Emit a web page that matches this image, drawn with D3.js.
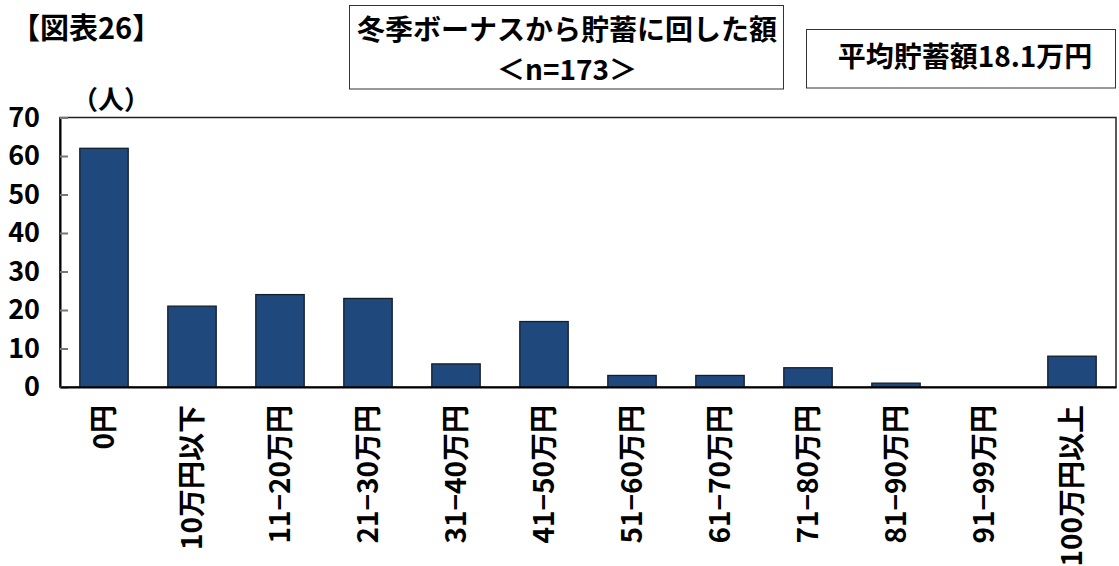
<!DOCTYPE html>
<html>
<head>
<meta charset="utf-8">
<script src="https://cdn.jsdelivr.net/npm/d3@7"></script>
<style>
  html, body { margin: 0; padding: 0; background: #fff; }
  svg { display: block; }
  text { font-family: "Noto Sans CJK JP", "Noto Sans", sans-serif; font-weight: bold; fill: #000; }
</style>
</head>
<body>
<svg id="chart" width="1119" height="566"></svg>
<script>
// 冬季ボーナスから貯蓄に回した額（人数）
const categories = ["0円", "10万円以下", "11−20万円", "21−30万円", "31−40万円", "41−50万円",
                    "51−60万円", "61−70万円", "71−80万円", "81−90万円", "91−99万円", "100万円以上"];
const counts = [62, 21, 24, 23, 6, 17, 3, 3, 5, 1, 0, 8];
const yTicks = [0, 10, 20, 30, 40, 50, 60, 70];

const figureLabel = "【図表26】";
const unitLabel = "（人）";
const titleLines = ["冬季ボーナスから貯蓄に回した額", "＜n=173＞"];
const averageLabel = "平均貯蓄額18.1万円";

const svg = d3.select("#chart");
const plot = { left: 60, right: 1116, top: 117.5, bottom: 387 };

const x = d3.scaleBand()
  .domain(categories)
  .range([plot.left, plot.right])
  .paddingInner(0.45)
  .paddingOuter(0.225);

const y = d3.scaleLinear()
  .domain([0, 70])
  .range([plot.bottom, plot.top]);

// plot frame
svg.append("rect")
  .attr("x", plot.left).attr("y", plot.top)
  .attr("width", plot.right - plot.left).attr("height", plot.bottom - plot.top)
  .attr("fill", "none").attr("stroke", "#222").attr("stroke-width", 1.5);

// bars
svg.append("g").selectAll("rect")
  .data(categories.map((c, i) => ({ c, v: counts[i] })))
  .join("rect")
  .attr("x", d => x(d.c))
  .attr("y", d => y(d.v))
  .attr("width", x.bandwidth())
  .attr("height", d => y(0) - y(d.v))
  .attr("fill", "#1f497d")
  .attr("stroke", "#141e2b")
  .attr("stroke-width", 1.3);

// y axis with inward ticks
const yAxis = svg.append("g")
  .attr("transform", `translate(${plot.left},0)`)
  .call(d3.axisLeft(y).tickValues(yTicks).tickSizeInner(-8).tickSizeOuter(0).tickPadding(20));
yAxis.select(".domain").attr("stroke", "#000").attr("stroke-width", 2);
yAxis.selectAll(".tick line").attr("stroke", "#777").attr("stroke-width", 2);
yAxis.selectAll(".tick text").style("font-size", "27px").attr("fill", "#000");

// x axis: baseline and rotated category labels
const xAxis = svg.append("g")
  .attr("transform", `translate(0,${plot.bottom})`)
  .call(d3.axisBottom(x).tickSize(0).tickPadding(0));
xAxis.select(".domain").attr("stroke", "#000").attr("stroke-width", 2);
xAxis.selectAll(".tick text")
  .style("font-size", "28px")
  .attr("fill", "#000")
  .attr("text-anchor", "end")
  .attr("transform", "translate(0,18) rotate(-90)")
  .attr("x", 0).attr("y", 0).attr("dy", "0.36em");

// figure label and unit
svg.append("text").attr("x", 11).attr("y", 39)
  .style("font-size", "29px").text(figureLabel);
svg.append("text").attr("x", 72).attr("y", 109)
  .style("font-size", "26px").text(unitLabel);

// title box
svg.append("rect").attr("x", 349.5).attr("y", 5.5).attr("width", 434).attr("height", 83.5)
  .attr("fill", "#fff").attr("stroke", "#333").attr("stroke-width", 1);
svg.append("text").attr("x", 567).attr("y", 40).attr("text-anchor", "middle")
  .style("font-size", "28px").text(titleLines[0]);
svg.append("text").attr("x", 567).attr("y", 80).attr("text-anchor", "middle")
  .style("font-size", "28px").text(titleLines[1]);

// average box
svg.append("rect").attr("x", 806.5).attr("y", 29.5).attr("width", 309).attr("height", 58.5)
  .attr("fill", "#fff").attr("stroke", "#333").attr("stroke-width", 1);
svg.append("text").attr("x", 965).attr("y", 67).attr("text-anchor", "middle")
  .style("font-size", "28px").text(averageLabel);
</script>
</body>
</html>
